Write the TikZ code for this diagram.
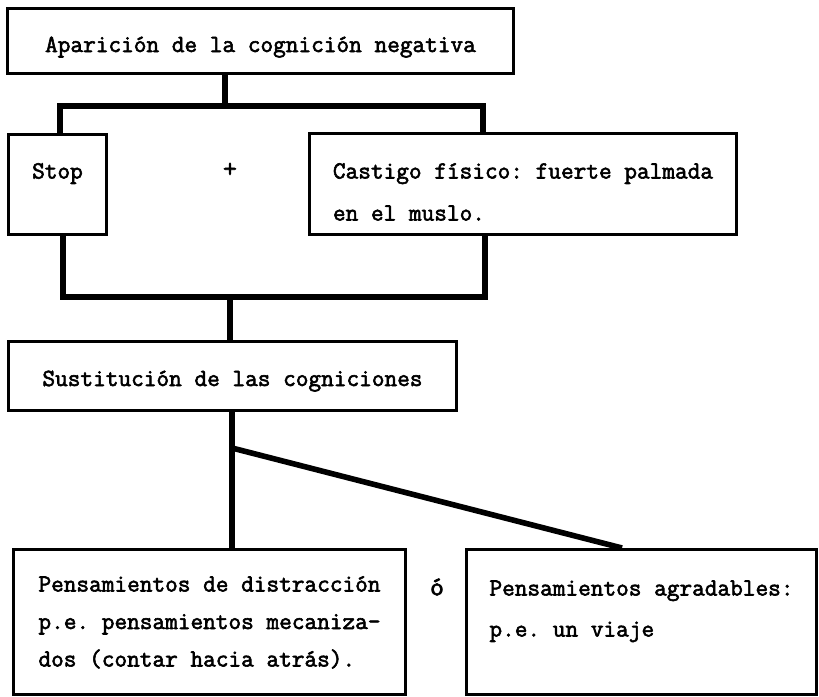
\documentclass[tikz,border=0pt]{standalone}
\usepackage{fontspec}
\setmonofont{Latin Modern Mono}[FakeBold=2.4]
\usepackage{tikz}

\begin{document}
\begin{tikzpicture}[x=0.5pt, y=-0.5pt,
    block/.style={draw, line width=1.5pt, anchor=north west, align=left,
      inner sep=0pt, font=\ttfamily\fontsize{12.3}{21}\selectfont},
    link/.style={line width=2.8pt},
    sign/.style={font=\ttfamily\fontsize{13.5}{21}\selectfont}]
            \useasboundingbox (0,0) rectangle (819,696);

            \node[block, minimum width=253pt, minimum height=32.5pt, text height=13pt, text depth=2pt] (onset) at (6,7) {Aparición de la cognición negativa};
            \node[block, minimum width=49pt, minimum height=50pt, text height=8pt, text depth=14pt] (stop) at (7,133) {Stop};
            \node[block, minimum width=213.5pt, minimum height=50.5pt, text height=38.5pt, text depth=2pt] (slap) at (308,132) {Castigo físico: fuerte palmada\\en el muslo.};
            \node[sign] (plus) at (230,170) {+};
            \node[block, minimum width=224pt, minimum height=34.5pt, text height=12pt, text depth=2pt] (swap) at (7,340) {Sustitución de las cogniciones};
            \node[block, minimum width=196pt, minimum height=72.5pt, text height=46.5pt, text depth=2pt, font=\ttfamily\fontsize{12.3}{18.75}\selectfont] (distract) at (12,548) {Pensamientos de distracción\\p.e. pensamientos mecaniza-\\dos (contar hacia atrás).};
            \node[sign] (or) at (437,587) {ó};
            \node[block, minimum width=175pt, minimum height=72.5pt, text height=16.5pt, text depth=2pt, font=\ttfamily\fontsize{12.3}{20.5}\selectfont] (pleasant) at (465,548) {Pensamientos agradables:\\p.e. un viaje};

            \coordinate (hub) at (225,106);
            \coordinate (barL) at (60,106);
            \coordinate (barR) at (483,106);
            \coordinate (busL) at (63,297);
            \coordinate (busR) at (485,297);
            \coordinate (drop) at (230,297);
            \coordinate (fork) at (232,448);
            \coordinate (tip) at (622,548);

            \draw[link] (onset.south -| hub) -- (hub);
            \draw[link] (stop.north -| barL) -- (barL) -- (barR) -- (slap.north -| barR);
            \draw[link] (stop.south -| busL) -- (busL) -- (busR) -- (slap.south -| busR);
            \draw[link] (drop) -- (swap.north -| drop);
            \draw[link] (swap.south -| fork) -- (distract.north -| fork);
            \draw[link] (fork) -- (pleasant.north -| tip);
        \end{tikzpicture}
\end{document}
